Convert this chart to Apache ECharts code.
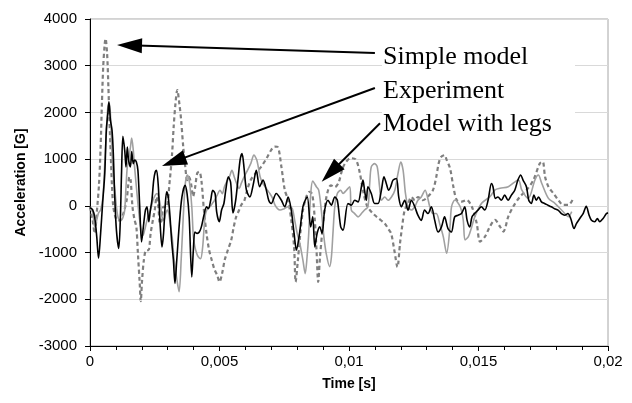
<!DOCTYPE html>
<html>
<head>
<meta charset="utf-8">
<script src="https://cdn.jsdelivr.net/npm/echarts@6/dist/echarts.min.js"></script>
<style>html,body{margin:0;padding:0;background:#fff}#c{width:632px;height:403px}</style>
</head>
<body>
<div id="c"></div>
<script>
// time in ms, acceleration in G
var expTime = [0,0.10,0.18,0.26,0.33,0.41,0.49,0.57,0.63,0.69,0.73,0.79,0.85,0.90,0.95,1.02,1.11,1.17,1.22,1.27,1.34,1.39,1.44,1.49,1.56,1.61,1.67,1.72,1.79,1.85,1.92,1.99,2.06,2.14,2.20,2.27,2.33,2.39,2.46,2.52,2.57,2.64,2.70,2.78,2.84,2.90,2.96,3.02,3.09,3.15,3.22,3.28,3.35,3.45,3.55,3.67,3.75,3.83,3.93,3.99,4.05,4.14,4.22,4.30,4.40,4.50,4.57,4.66,4.74,4.83,4.89,4.99,5.08,5.17,5.24,5.34,5.43,5.52,5.62,5.72,5.80,5.87,5.95,6.04,6.17,6.30,6.42,6.55,6.68,6.81,6.90,7.00,7.19,7.39,7.52,7.65,7.77,7.88,7.97,8.09,8.22,8.31,8.39,8.52,8.60,8.68,8.77,8.87,8.96,9.06,9.19,9.32,9.45,9.55,9.68,9.77,9.96,10.09,10.22,10.35,10.48,10.54,10.60,10.67,10.73,10.86,10.99,11.12,11.25,11.35,11.44,11.53,11.61,11.70,11.83,11.92,12.02,12.15,12.28,12.41,12.54,12.66,12.79,12.92,13.05,13.18,13.31,13.44,13.57,13.69,13.82,13.95,14.08,14.21,14.34,14.47,14.56,14.66,14.75,14.85,14.98,15.11,15.24,15.37,15.50,15.56,15.65,15.75,15.88,16.01,16.14,16.27,16.40,16.52,16.63,16.72,16.85,16.94,17.04,17.14,17.23,17.32,17.43,17.55,17.68,17.81,17.94,18.07,18.20,18.33,18.45,18.56,18.69,18.78,18.91,19.04,19.16,19.27,19.36,19.49,19.59,19.68,19.81,19.94,20.0];
var expAcc = [-40,-80,-240,-660,-1120,-590,80,690,1620,1980,2230,1830,1620,1120,260,-520,-910,-310,760,1490,1190,835,1260,980,835,1160,900,980,940,760,-20,-770,-450,-90,-20,-340,-90,120,550,730,760,400,-310,-880,-590,-20,300,190,-235,-735,-1160,-1660,-1160,-380,190,440,250,-250,-1520,-950,-560,-590,-560,-450,-200,-20,-60,120,335,260,-130,-340,-90,50,330,620,500,-150,100,600,1000,1120,800,335,190,450,760,410,550,335,120,50,265,120,-20,190,-90,-590,-950,-590,-20,120,190,-450,-235,-880,-590,-450,-590,-90,120,15,190,120,-450,-520,50,15,120,85,410,550,335,120,410,265,50,50,335,620,480,335,410,550,585,190,-20,120,-90,120,-20,-200,-310,-90,-165,-20,-310,-560,-450,-235,-485,-560,-235,-200,-165,-20,-310,-450,-235,-165,-90,-20,-90,120,480,410,160,190,120,230,120,230,335,550,660,550,410,120,50,230,120,190,85,50,15,-20,-60,-90,-165,-200,-165,-270,-485,-380,-270,-165,-10,-200,-310,-340,-270,-340,-270,-165,-150];

var legTime = [0,0.10,0.18,0.26,0.33,0.41,0.50,0.57,0.63,0.69,0.75,0.80,0.85,0.90,0.96,1.02,1.08,1.15,1.21,1.28,1.34,1.39,1.44,1.49,1.56,1.61,1.67,1.72,1.79,1.85,1.92,1.98,2.05,2.11,2.17,2.24,2.34,2.43,2.52,2.59,2.65,2.73,2.78,2.86,2.92,2.99,3.05,3.11,3.17,3.25,3.34,3.44,3.52,3.60,3.68,3.76,3.84,3.93,3.99,4.05,4.12,4.18,4.27,4.35,4.44,4.53,4.63,4.72,4.81,4.91,5.02,5.11,5.19,5.28,5.38,5.48,5.57,5.66,5.76,5.84,5.95,6.08,6.21,6.33,6.44,6.57,6.67,6.76,6.85,6.95,7.05,7.14,7.24,7.34,7.50,7.65,7.80,7.90,8.00,8.10,8.22,8.31,8.38,8.44,8.52,8.60,8.74,8.83,8.93,9.03,9.12,9.25,9.32,9.38,9.45,9.55,9.68,9.77,9.90,10.03,10.09,10.22,10.35,10.48,10.60,10.73,10.80,10.86,10.99,11.09,11.18,11.25,11.38,11.51,11.64,11.77,11.89,12.00,12.09,12.18,12.28,12.41,12.54,12.66,12.79,12.94,13.03,13.12,13.24,13.37,13.51,13.64,13.77,13.90,13.96,14.09,14.29,14.41,14.48,14.61,14.74,14.86,15.12,15.44,15.64,15.83,16.15,16.54,16.67,16.92,17.18,17.31,17.44,17.70,17.95,18.27,18.47,18.60];
var legAcc = [-60,-130,-450,-300,-150,-90,190,910,1550,2120,2190,1830,1120,620,340,-20,-235,-310,-310,-235,-90,410,840,980,1250,1450,1200,840,410,50,-310,-520,-630,-520,-380,-235,-90,120,230,265,190,-20,-235,-310,-165,-90,-200,-450,-660,-1160,-1520,-1840,-1160,-240,480,660,510,-20,-660,-880,-1020,-1090,-1130,-880,-240,-60,-20,50,120,230,335,260,410,520,620,760,620,480,370,480,620,760,910,1085,980,620,480,410,335,260,160,20,-60,-90,-60,-20,-50,-300,-590,-800,-1160,-1450,-1100,-640,240,530,410,335,-90,-660,-1020,-1300,-1100,-590,-20,265,335,265,335,410,-90,-165,-235,-165,-90,-20,480,835,905,835,410,120,190,120,190,335,690,940,760,265,-20,-90,-20,120,190,335,190,-20,-165,-165,-400,-660,-1015,-445,-15,125,-15,-300,-730,-660,-445,-230,55,195,340,375,410,555,340,160,555,660,485,160,55,-125,-230,-125];

var simTime = [0,0.10,0.18,0.28,0.35,0.41,0.46,0.51,0.57,0.60,0.66,0.71,0.75,0.80,0.85,0.90,0.98,1.06,1.15,1.21,1.29,1.36,1.42,1.47,1.52,1.57,1.64,1.72,1.79,1.85,1.92,1.96,2.01,2.08,2.17,2.26,2.34,2.43,2.50,2.57,2.64,2.70,2.77,2.83,2.95,3.08,3.17,3.23,3.30,3.37,3.45,3.52,3.60,3.68,3.75,3.82,3.90,3.98,4.06,4.14,4.22,4.30,4.40,4.50,4.60,4.70,4.80,4.92,5.00,5.10,5.20,5.32,5.45,5.55,5.64,5.75,5.85,5.95,6.05,6.20,6.40,6.60,6.80,7.00,7.13,7.25,7.39,7.52,7.65,7.77,7.88,7.94,8.02,8.12,8.22,8.35,8.47,8.58,8.68,8.75,8.81,8.88,8.98,9.10,9.20,9.30,9.45,9.60,9.75,9.90,10.05,10.25,10.40,10.55,10.70,10.90,11.10,11.38,11.55,11.63,11.75,11.87,11.97,12.05,12.15,12.28,12.41,12.54,12.66,12.85,13.05,13.24,13.37,13.46,13.56,13.69,13.77,13.90,14.03,14.16,14.35,14.54,14.74,14.93,15.06,15.25,15.44,15.64,15.83,15.96,16.15,16.34,16.60,16.86,17.12,17.37,17.48,17.57,17.70,17.89,18.08,18.27,18.47,18.66];
var simAcc = [-20,-300,-590,-20,480,1260,2190,2980,3480,3580,3260,2550,1830,1120,410,-20,-235,-310,-310,-270,-160,-20,140,410,620,550,-20,-300,-450,-1020,-1660,-2040,-1600,-1160,-950,-950,-590,-300,-90,190,-20,-380,-310,-20,-20,550,1120,1690,2190,2480,2190,1830,1260,830,550,620,480,200,400,700,730,550,-100,-600,-950,-1160,-1350,-1500,-1630,-1450,-1160,-950,-740,-450,-240,-100,30,100,300,550,700,830,1000,1200,1270,1260,835,340,120,-300,-880,-1630,-1200,-590,-100,190,300,250,-300,-1000,-1630,-1100,-480,100,350,440,400,500,800,950,1020,1000,750,300,0,-150,-250,-380,-520,-590,-950,-1310,-800,-450,-90,50,190,120,190,120,200,335,620,905,1050,1085,985,805,410,125,90,125,-15,-370,-765,-660,-445,-300,-445,-550,-230,-15,195,340,555,910,945,625,410,270,125,20,20,160];

var xTickLabels = ['0', '0,005', '0,01', '0,015', '0,02'];

// annotation arrows: [label, startTime, startAcc, headTime, headAcc]
var annotations = [
  ['Simple model', 11.0, 3274, 1.525, 3436],
  ['Experiment', 11.0, 2524, 3.232, 946],
  ['Model with legs', 11.197, 1768, 9.286, 707]
];

function pairs(t, v) { return t.map(function (x, i) { return [x, v[i]]; }); }

var chart = echarts.init(document.getElementById('c'), null, {renderer: 'canvas'});
var arrowData = annotations.map(function (a) {
  return [{coord: [a[1], a[2]], symbol: 'none'}, {coord: [a[3], a[4]], symbol: 'triangle'}];
});

chart.setOption({
  animation: false,
  backgroundColor: '#fff',
  grid: {left: 90, right: 24, top: 19, bottom: 57, show: true, borderColor: '#a6a6a6', borderWidth: 1},
  xAxis: {
    type: 'value', min: 0, max: 20, interval: 5,
    name: 'Time [s]', nameLocation: 'middle', nameGap: 31,
    nameTextStyle: {fontFamily: 'Liberation Sans', fontWeight: 'bold', fontSize: 14, color: '#000'},
    axisLine: {onZero: false, lineStyle: {color: '#000', width: 1}},
    axisTick: {show: true, length: 5, lineStyle: {color: '#000'}},
    minorTick: {show: true, splitNumber: 5, length: 4, lineStyle: {color: '#000'}},
    axisLabel: {fontFamily: 'Liberation Sans', fontSize: 15, color: '#000', margin: 8,
      formatter: function (v) { return xTickLabels[Math.round(v / 5)]; }},
    splitLine: {show: false}
  },
  yAxis: {
    type: 'value', min: -3000, max: 4000, interval: 1000,
    name: 'Acceleration [G]', nameLocation: 'middle', nameGap: 62, nameRotate: 90,
    nameTextStyle: {fontFamily: 'Liberation Sans', fontWeight: 'bold', fontSize: 14, color: '#000'},
    axisLine: {show: true, lineStyle: {color: '#000', width: 1}},
    axisTick: {show: true, length: 5, lineStyle: {color: '#000'}},
    axisLabel: {fontFamily: 'Liberation Sans', fontSize: 15, color: '#000', margin: 13,
      formatter: function (v) { return String(v); }},
    splitLine: {show: true, lineStyle: {color: '#d9d9d9', width: 1}}
  },
  series: [
    {name: 'Simple model', type: 'line', data: pairs(simTime, simAcc), showSymbol: false, smooth: 0.3,
     lineStyle: {color: '#7f7f7f', width: 2.2, type: [4, 3]}, z: 2},
    {name: 'Model with legs', type: 'line', data: pairs(legTime, legAcc), showSymbol: false, smooth: 0.3,
     lineStyle: {color: '#a0a0a0', width: 1.6}, z: 3},
    {name: 'Experiment', type: 'line', data: pairs(expTime, expAcc), showSymbol: false, smooth: 0.3,
     lineStyle: {color: '#000', width: 1.6}, z: 4,
     markLine: {silent: true, animation: false, symbolSize: [15, 25], label: {show: false},
       lineStyle: {color: '#000', width: 2, type: 'solid'},
       itemStyle: {color: '#000'},
       data: arrowData}}
  ],
  graphic: [
    {type: 'rect', left: 382, top: 38, shape: {width: 193, height: 100}, style: {fill: '#fff'}, z: 10},
    {type: 'text', left: 383, top: 44, style: {text: annotations[0][0], font: '26px "Liberation Serif"', fill: '#000'}, z: 11},
    {type: 'text', left: 383, top: 78, style: {text: annotations[1][0], font: '26px "Liberation Serif"', fill: '#000'}, z: 11},
    {type: 'text', left: 383, top: 111, style: {text: annotations[2][0], font: '26px "Liberation Serif"', fill: '#000'}, z: 11}
  ]
});
</script>
</body>
</html>
